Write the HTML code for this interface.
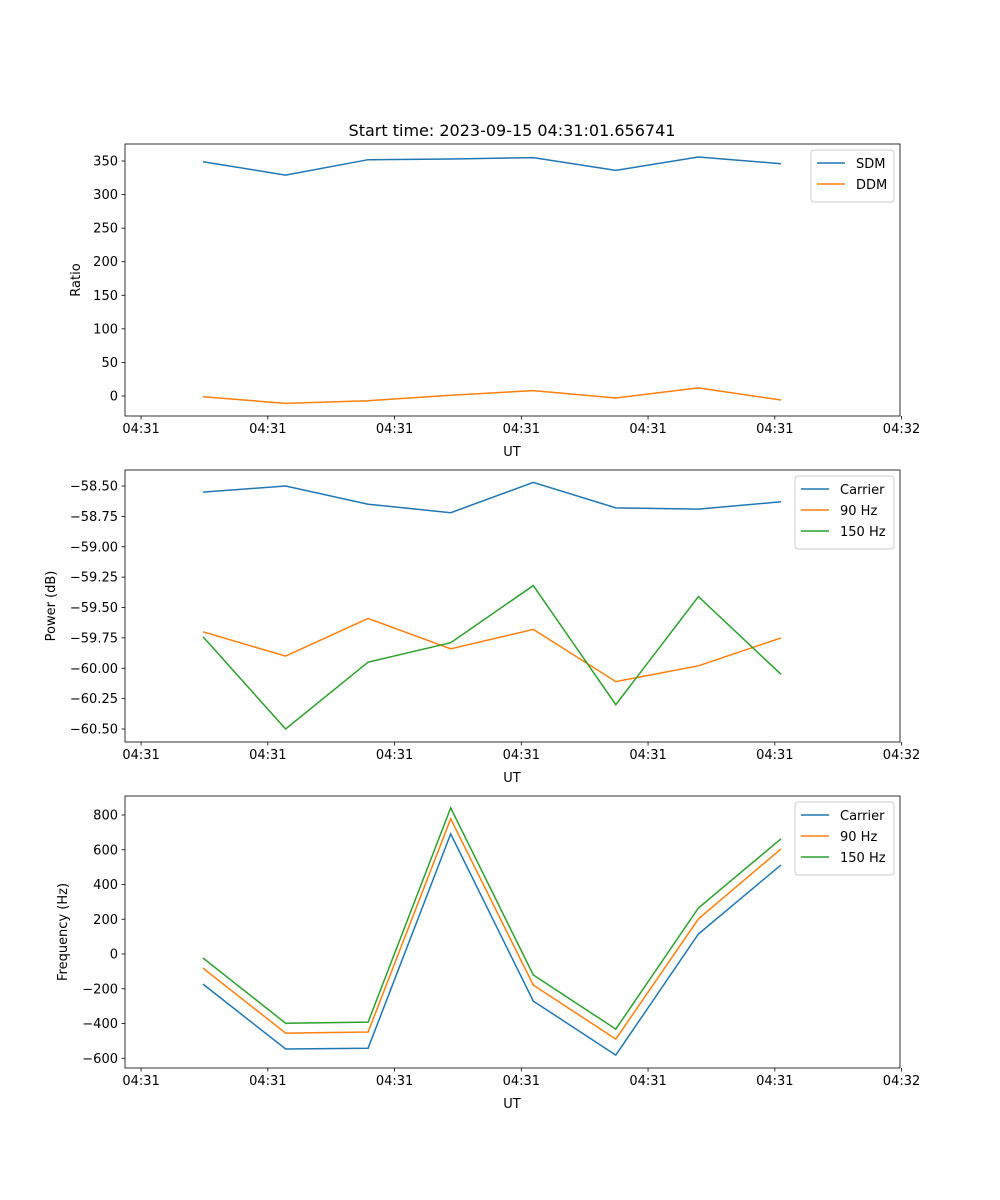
<!DOCTYPE html>
<html><head><meta charset="utf-8">
<style>
body{margin:0;background:#fff;}
svg{display:block;font-family:"DejaVu Sans","Liberation Sans",sans-serif;}
</style></head>
<body>
<svg id="fig" width="1000" height="1200" viewBox="0 0 1000 1200" xmlns="http://www.w3.org/2000/svg">
<rect width="1000" height="1200" fill="#fff"/>
<text x="512" y="136" font-size="16" text-anchor="middle">Start time: 2023-09-15 04:31:01.656741</text>
</svg>
<script>
const sdm = [349, 329, 352, 353, 355, 336, 356, 346];
const ddm = [-1, -11, -7, 1, 8, -3, 12, -6];
const powCarrier = [-58.55, -58.50, -58.65, -58.72, -58.47, -58.68, -58.69, -58.63];
const pow90 = [-59.70, -59.90, -59.59, -59.84, -59.68, -60.11, -59.98, -59.75];
const pow150 = [-59.74, -60.50, -59.95, -59.79, -59.32, -60.30, -59.41, -60.05];
const freqCarrier = [-173, -547, -542, 691, -271, -582, 115, 513];
const freq90 = [-81, -455, -449, 778, -179, -490, 202, 605];
const freq150 = [-23, -398, -392, 841, -121, -432, 265, 663];
const xTickLabels = ["04:31","04:31","04:31","04:31","04:31","04:31","04:32"];
const ratioTicks = [0,50,100,150,200,250,300,350];
const powerTicks = [-58.5,-58.75,-59,-59.25,-59.5,-59.75,-60,-60.25,-60.5];
const freqTicks = [-600,-400,-200,0,200,400,600,800];

const NS="http://www.w3.org/2000/svg";
const svg=document.getElementById('fig');
const C={blue:"#1f77b4",orange:"#ff7f0e",green:"#2ca02c"};
const X0=125,X1=900;
function xS(i){return 203+82.57*i;}
function mk(tag,attrs,parent){const e=document.createElementNS(NS,tag);for(const k in attrs)e.setAttribute(k,attrs[k]);(parent||svg).appendChild(e);return e;}

function panel(cfg){
  const g=mk('g',{});
  
  
  const yS=v=>cfg.y0px+(v-cfg.v0)*(cfg.y1px-cfg.y0px)/(cfg.v1-cfg.v0);
  // series
  cfg.series.forEach(s=>{
    const d=s.vals.map((v,i)=>(i?'L':'M')+xS(i).toFixed(1)+','+yS(v).toFixed(1)).join(' ');
    const p=mk('path',{d:d,fill:'none',stroke:s.color,'stroke-width':1.5},g);
    
    
  });
  // frame
  const fr=mk('rect',{x:X0,y:cfg.top,width:X1-X0,height:cfg.bot-cfg.top,fill:'none',stroke:'#000','stroke-width':0.8},g);
  
  
  // x ticks
  xTickLabels.forEach((lab,k)=>{
    const x=xS(-0.75+k*1.535);
    mk('line',{x1:x,x2:x,y1:cfg.bot,y2:cfg.bot+3.5,stroke:'#000','stroke-width':0.8},g);
    const t=mk('text',{x:x,y:cfg.bot+17,'font-size':13,'text-anchor':'middle'},g);
    t.textContent=lab;
    
    
  });
  const xl=mk('text',{x:512,y:cfg.bot+40,'font-size':13,'text-anchor':'middle'},g);
  xl.textContent='UT';
  
  
  // y ticks
  cfg.ticks.forEach(v=>{
    const y=yS(v);
    mk('line',{x1:X0-3.5,x2:X0,y1:y,y2:y,stroke:'#000','stroke-width':0.8},g);
    const t=mk('text',{x:X0-7,y:y+4.5,'font-size':13,'text-anchor':'end'},g);
    t.textContent=cfg.fmt(v);
    
    
  });
  const yl=mk('text',{x:0,y:0,'font-size':13,'text-anchor':'middle',transform:`translate(${cfg.ylx},${(cfg.top+cfg.bot)/2}) rotate(-90)`},g);
  yl.textContent=cfg.ylabel;
  
  
  // legend
  const n=cfg.series.length;
  const lw=cfg.legW, lx=X1-6-lw, ly=cfg.top+6, lh=10+n*21;
  const lg=mk('g',{},g);
  
  
  mk('rect',{x:lx,y:ly,width:lw,height:lh,rx:3,fill:'#fff','fill-opacity':0.8,stroke:'#ccc','stroke-width':1},lg);
  cfg.series.forEach((s,i)=>{
    const yy=ly+13+i*21;
    mk('line',{x1:lx+6,x2:lx+34,y1:yy,y2:yy,stroke:s.color,'stroke-width':1.5},lg);
    const t=mk('text',{x:lx+45,y:yy+5,'font-size':13},lg);
    t.textContent=s.label;
    
    
  });
}

panel({name:'ratio-panel',top:144,bot:416,y0px:396,v0:0,y1px:161,v1:350,ticks:ratioTicks,fmt:v=>String(v),ylabel:'Ratio',ylx:80,legW:83,
  series:[{id:'sdm',label:'SDM',vals:sdm,color:C.blue},{id:'ddm',label:'DDM',vals:ddm,color:C.orange}]});
panel({name:'power-panel',top:470,bot:742,y0px:486,v0:-58.5,y1px:729,v1:-60.5,ticks:powerTicks,fmt:v=>(v<0?'\u2212':'')+Math.abs(v).toFixed(2),ylabel:'Power (dB)',ylx:55,legW:99,
  series:[{id:'power-carrier',label:'Carrier',vals:powCarrier,color:C.blue},{id:'power-90hz',label:'90 Hz',vals:pow90,color:C.orange},{id:'power-150hz',label:'150 Hz',vals:pow150,color:C.green}]});
panel({name:'frequency-panel',top:796,bot:1068,y0px:954,v0:0,y1px:815,v1:800,ticks:freqTicks,fmt:v=>(v<0?'\u2212':'')+Math.abs(v),ylabel:'Frequency (Hz)',ylx:67,legW:99,
  series:[{id:'freq-carrier',label:'Carrier',vals:freqCarrier,color:C.blue},{id:'freq-90hz',label:'90 Hz',vals:freq90,color:C.orange},{id:'freq-150hz',label:'150 Hz',vals:freq150,color:C.green}]});
</script>
</body></html>
